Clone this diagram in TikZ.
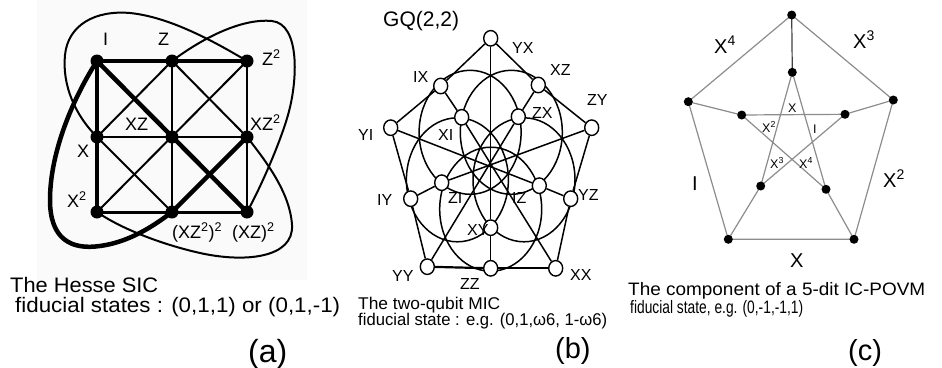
\documentclass[tikz,border=0pt]{standalone}
\usepackage{fontspec}
\setmainfont{Liberation Sans}
\usepackage{graphicx}
\usetikzlibrary{shapes.geometric}
\pgfdeclarelayer{bg}
\pgfsetlayers{bg,main}
\newcommand{\fs}[1]{\fontsize{#1}{#1}\selectfont}
\newcommand{\sq}{\textsuperscript}
\begin{document}
\begin{tikzpicture}[x=1pt,y=-1pt,
  lbl/.style={inner sep=0pt, anchor=base west},
  alab/.style={lbl, font=\fs{18}},
  blab/.style={lbl, font=\fs{16}},
  clabL/.style={lbl, font=\fs{20}},
  clabS/.style={lbl, font=\fs{12.5}},
  adot/.style={circle, fill=black, inner sep=0pt, minimum size=13pt},
  thinA/.style={line width=2pt},
  midA/.style={line width=3pt},
  thickA/.style={line width=4.5pt},
  bnode/.style={ellipse, draw, line width=1.4pt, fill=white, inner sep=0pt, minimum width=14pt, minimum height=15.5pt},
  bline/.style={line width=1.5pt},
  cdot/.style={circle, fill=black, inner sep=0pt, minimum size=9pt},
  cline/.style={line width=1.2pt, draw=black!45},
]
\useasboundingbox (0,0) rectangle (942,367);
\begin{pgfonlayer}{bg}
\fill[black!2] (37,0) rectangle (307,280);
\end{pgfonlayer}

% ---------------- panel (a)
\node[adot] (aI) at (97,61) {};
\node[adot] (aZ) at (172,61) {};
\node[adot] (aZb) at (247,61) {};
\node[adot] (aX) at (97,137) {};
\node[adot] (aC) at (172,137) {};
\node[adot] (aXZb) at (247,137) {};
\node[adot] (aXb) at (97,212) {};
\node[adot] (aP) at (172,212) {};
\node[adot] (aQ) at (247,212) {};
\begin{pgfonlayer}{bg}
\draw[thickA] (aI.center) -- (aZb.center);
\draw[thickA] (aI.center) -- (aXb.center);
\draw[thickA] (aI.center) -- (aQ.center);
\draw[thickA] (aXZb.center) -- (aP.center);
\draw[midA] (aXb.center) -- (aQ.center);
\draw[thinA] (aX.center) -- (aXZb.center);
\draw[thinA] (aZ.center) -- (aP.center);
\draw[line width=2.5pt] (aZb.center) -- (aQ.center);
\draw[thinA] (aXb.center) -- (aZb.center);
\draw[thinA] (aX.center) -- (aZ.center);
\draw[thinA] (aZ.center) -- (aXZb.center);
\draw[thinA] (aX.center) -- (aP.center);
% curved Hesse lines
\draw[thinA] (aX.center) .. controls (75,115) and (62,85) .. (65,55)
  .. controls (68,25) and (95,10) .. (130,13)
  .. controls (170,17) and (215,42) .. (aZb.center);
\draw[thinA] (aZ.center) .. controls (200,40) and (240,18) .. (272,21)
  .. controls (300,24) and (298,80) .. (288,115)
  .. controls (281,140) and (262,185) .. (aQ.center);
\draw[thinA] (aXZb.center) .. controls (265,160) and (290,192) .. (292,225)
  .. controls (294,258) and (245,263) .. (200,253)
  .. controls (160,244) and (120,228) .. (aXb.center);
\draw[thickA] (aI.center) .. controls (75,95) and (50,150) .. (50,200)
  .. controls (50,240) and (72,250) .. (100,246)
  .. controls (130,242) and (155,225) .. (aP.center);
\end{pgfonlayer}
\node[alab] (laI) at (103,45) {I};
\node[alab] (laZ) at (158,45) {Z};
\node[alab] (laZb) at (262,65) {Z\sq{2}};
\node[alab] (laXZ) at (125,130) {XZ};
\node[alab] (laXZb) at (250,130) {XZ\sq{2}};
\node[alab] (laX) at (77,157) {X};
\node[alab] (laXb) at (67,207) {X\sq{2}};
\node[alab] (laP) at (172,238) {(XZ\sq{2})\sq{2}};
\node[alab] (laQ) at (232,238) {(XZ)\sq{2}};
\node[lbl, font=\fs{21}] (capa1) at (10,292) {\resizebox{148pt}{\height}{The Hesse SIC}};
\node[lbl, font=\fs{21}] (capa2) at (15,312) {\resizebox{325pt}{\height}{fiducial states : (0,1,1) or (0,1,-1)}};
\node[lbl, font=\fs{32}] (capa3) at (248,362) {(a)};

% ---------------- panel (b)
\begin{pgfonlayer}{bg}
\draw[bline] (470.1,132.3) ellipse [x radius=51pt, y radius=62pt];
\draw[bline] (511.3,132.3) ellipse [x radius=51pt, y radius=62pt];
\draw[bline] (524.0,179.8) ellipse [x radius=51pt, y radius=62pt];
\draw[bline] (490.7,209.2) ellipse [x radius=51pt, y radius=62pt];
\draw[bline] (457.4,179.8) ellipse [x radius=51pt, y radius=62pt];
\end{pgfonlayer}
\node[bnode] (YX) at (490.7,38.3) {};
\node[bnode] (IX) at (440.7,86) {};
\node[bnode] (XZ) at (538.3,85) {};
\node[bnode] (YI) at (390.7,127.7) {};
\node[bnode] (ZY) at (591.7,127.7) {};
\node[bnode] (XI) at (461.7,117.3) {};
\node[bnode] (ZX) at (518.3,116.7) {};
\node[bnode] (ZI) at (441.7,182.7) {};
\node[bnode] (IZ) at (539.3,185.7) {};
\node[bnode] (IY) at (410.7,198.7) {};
\node[bnode] (YZ) at (570.7,198.7) {};
\node[bnode] (XY) at (490.7,227.7) {};
\node[bnode] (YY) at (427.3,266.7) {};
\node[bnode] (ZZ) at (490.7,268.3) {};
\node[bnode] (XX) at (555.7,268.3) {};
\begin{pgfonlayer}{bg}
\draw[bline] (YX) -- (IX); \draw[bline] (IX) -- (YI);
\draw[bline] (YX) -- (XZ); \draw[bline] (XZ) -- (ZY);
\draw[bline] (YI) -- (IY); \draw[bline] (IY) -- (YY);
\draw[bline] (ZY) -- (YZ); \draw[bline] (YZ) -- (XX);
\draw[line width=2.2pt] (YY) -- (ZZ); \draw[line width=2.2pt] (ZZ) -- (XX);
\draw[bline] (YX) -- (XY); \draw[bline] (XY) -- (ZZ);
\draw[bline] (YI) -- (IZ); \draw[bline] (IZ) -- (YZ);
\draw[bline] (ZY) -- (ZI); \draw[bline] (ZI) -- (IY);
\draw[bline] (YY) -- (ZX); \draw[bline] (ZX) -- (XZ);
\draw[bline] (XX) -- (XI); \draw[bline] (XI) -- (IX);
\end{pgfonlayer}
\node[lbl, font=\fs{21}] (gq) at (383,26.5) {GQ(2,2)};
\node[blab] (lYX) at (512,53) {YX};
\node[blab] (lXZ) at (550,75) {XZ};
\node[blab] (lZY) at (587,105) {ZY};
\node[blab] (lIX) at (413,82) {IX};
\node[blab] (lYI) at (358,140) {YI};
\node[blab] (lXI) at (438,140) {XI};
\node[blab] (lZX) at (532,118) {ZX};
\node[blab] (lIY) at (377,205) {IY};
\node[blab] (lZI) at (448,203) {ZI};
\node[blab] (lIZ) at (512,203) {IZ};
\node[blab] (lYZ) at (578,200) {YZ};
\node[blab] (lXY) at (467,235) {XY};
\node[blab] (lYY) at (392,281) {YY};
\node[blab] (lZZ) at (460,289) {ZZ};
\node[blab] (lXX) at (570,280) {XX};
\node[lbl, font=\fs{17}] (capb1) at (358,309) {\resizebox{142pt}{\height}{The two-qubit MIC}};
\node[lbl, font=\fs{17}] (capb2) at (358,325) {\resizebox{249pt}{\height}{fiducial state : e.g. (0,1,ω6, 1-ω6)}};
\node[lbl, font=\fs{29}] (capb3) at (555,358) {(b)};

% ---------------- panel (c)
\node[cdot] (o1) at (791.7,15) {};
\node[cdot] (o2) at (893.3,100) {};
\node[cdot] (o3) at (854,239.3) {};
\node[cdot] (o4) at (728.3,239.3) {};
\node[cdot] (o5) at (688.3,101.7) {};
\node[cdot] (i1) at (792.3,72.3) {};
\node[cdot] (i2) at (845,114.3) {};
\node[cdot] (i3) at (826,189.3) {};
\node[cdot] (i4) at (760.7,186) {};
\node[cdot] (i5) at (741.7,115) {};
\begin{pgfonlayer}{bg}
\draw[cline] (o1.center) -- (o2.center) -- (o3.center) -- (o4.center) -- (o5.center) -- (o1.center);
\draw[line width=1.2pt, draw=black!75] (o1.center) -- (i1.center);
\draw[cline] (o2.center) -- (i2.center);
\draw[cline] (o3.center) -- (i3.center);
\draw[cline] (o4.center) -- (i4.center);
\draw[cline] (o5.center) -- (i5.center);
\draw[cline] (i1.center) -- (i3.center) -- (i5.center) -- (i2.center) -- (i4.center) -- (i1.center);
\end{pgfonlayer}
\node[clabL] (c1) at (714,53) {X\sq{4}};
\node[clabL] (c2) at (853,48) {X\sq{3}};
\node[clabL] (c3) at (692,190) {I};
\node[clabL] (c4) at (883,187) {X\sq{2}};
\node[clabL] (c5) at (790,267) {X};
\node[clabS] (s1) at (788,112) {X};
\node[clabS] (s2) at (762,132) {X\sq{2}};
\node[clabS] (s3) at (813,133) {I};
\node[clabS] (s4) at (770,168) {X\sq{3}};
\node[clabS] (s5) at (799,168) {X\sq{4}};
\node[lbl, font=\fs{18}] (capc1) at (628,295) {\resizebox{297pt}{\height}{The component of a 5-dit IC-POVM}};
\node[lbl, font=\fs{18}] (capc2) at (630,313) {\resizebox{173pt}{\height}{fiducial state, e.g. (0,-1,-1,1)}};
\node[lbl, font=\fs{29}] (capc3) at (848,360) {(c)};
\end{tikzpicture}
\end{document}
